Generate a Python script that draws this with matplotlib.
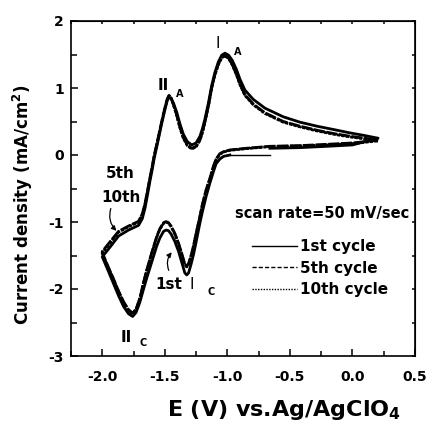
import numpy as np
import matplotlib
matplotlib.use("Agg")
import matplotlib.pyplot as plt
from matplotlib.lines import Line2D

# potential grids (V vs Ag/AgClO4)
E_cat = [0.20, 0.0, -0.2, -0.42, -0.66, -0.85, -0.98, -1.03, -1.06, -1.09, -1.11, -1.14,
         -1.17, -1.2, -1.22, -1.25, -1.27, -1.29, -1.31, -1.325, -1.34, -1.365, -1.39,
         -1.42, -1.45, -1.47, -1.49, -1.51, -1.54, -1.565, -1.6, -1.645, -1.67, -1.7,
         -1.73, -1.757, -1.79, -1.83, -1.87, -1.91, -1.95, -2.0]
E_an = [-2.0, -1.94, -1.87, -1.79, -1.71, -1.68, -1.658, -1.638, -1.618, -1.6, -1.584,
        -1.56, -1.525, -1.5, -1.48, -1.467, -1.45, -1.43, -1.405, -1.38, -1.352, -1.32,
        -1.285, -1.25, -1.219, -1.2, -1.179, -1.15, -1.126, -1.1, -1.072, -1.045, -1.019,
        -0.99, -0.96, -0.926, -0.899, -0.86, -0.793, -0.7, -0.553, -0.42, -0.284, -0.15,
        -0.02, 0.1, 0.205]

# 1st cycle starts at -0.66 V (E_cat[4:]) and returns to -0.66 V (E_cat[:5])
J1_start = [0.0, 0.0, 0.0]
J1_cat = [0.0, -0.02, -0.06, -0.13, -0.24, -0.42, -0.62, -0.85, -1.02, -1.3,
          -1.48, -1.63, -1.76, -1.79, -1.76, -1.6, -1.44, -1.29, -1.18, -1.13, -1.12,
          -1.14, -1.24, -1.36, -1.57, -1.84, -2.0, -2.2, -2.35, -2.41, -2.37, -2.26, -2.1,
          -1.92, -1.74, -1.52]
J1_an = [-1.52, -1.38, -1.21, -1.12, -1.05, -0.95, -0.79, -0.59, -0.38, -0.21, -0.04, 0.16,
         0.47, 0.67, 0.82, 0.86, 0.84, 0.77, 0.64, 0.47, 0.31, 0.2, 0.15, 0.18, 0.28, 0.39,
         0.54, 0.79, 1.03, 1.23, 1.39, 1.49, 1.52, 1.49, 1.41, 1.27, 1.13, 0.97, 0.83, 0.7,
         0.57, 0.49, 0.43, 0.38, 0.33, 0.29, 0.25]
J1_ret = [0.25, 0.15, 0.13, 0.11, 0.10]

J5_cat = [0.22, 0.18, 0.16, 0.14, 0.13, 0.10, 0.075, 0.05, 0.02, -0.06, -0.16, -0.35,
          -0.52, -0.74, -0.92, -1.17, -1.35, -1.5, -1.62, -1.66, -1.63, -1.47, -1.32,
          -1.17, -1.06, -1.01, -0.995, -1.01, -1.1, -1.22, -1.43, -1.72, -1.9, -2.14,
          -2.3, -2.36, -2.31, -2.19, -2.03, -1.85, -1.68, -1.46]
J5_an = [-1.44, -1.3, -1.14, -1.06, -0.99, -0.88, -0.72, -0.53, -0.33, -0.16, 0.0, 0.2,
         0.5, 0.7, 0.84, 0.89, 0.86, 0.75, 0.6, 0.42, 0.26, 0.15, 0.1, 0.13, 0.23, 0.34,
         0.5, 0.75, 1.0, 1.2, 1.36, 1.46, 1.49, 1.45, 1.35, 1.2, 1.06, 0.9, 0.76, 0.63,
         0.5, 0.43, 0.37, 0.32, 0.28, 0.25, 0.22]

J10_cat = [0.21, 0.17, 0.15, 0.135, 0.125, 0.095, 0.07, 0.045, 0.01, -0.07, -0.17, -0.36,
           -0.53, -0.75, -0.93, -1.18, -1.36, -1.51, -1.63, -1.67, -1.64, -1.48, -1.33,
           -1.18, -1.07, -1.02, -1.0, -1.02, -1.11, -1.23, -1.44, -1.73, -1.91, -2.15,
           -2.31, -2.37, -2.32, -2.2, -2.04, -1.86, -1.69, -1.47]
J10_an = [-1.46, -1.32, -1.15, -1.07, -1.0, -0.89, -0.73, -0.54, -0.34, -0.17, -0.01, 0.19,
          0.49, 0.69, 0.83, 0.88, 0.85, 0.74, 0.59, 0.41, 0.25, 0.14, 0.09, 0.12, 0.22, 0.33,
          0.49, 0.74, 0.99, 1.19, 1.35, 1.45, 1.48, 1.44, 1.34, 1.19, 1.05, 0.89, 0.75, 0.62,
          0.49, 0.42, 0.36, 0.31, 0.27, 0.24, 0.21]

labels = ["1st cycle", "5th cycle", "10th cycle"]

plt.rcParams['font.family'] = ['DejaVu Sans']
plt.rcParams['font.weight'] = 'bold'

fig = plt.figure(figsize=(4.29, 4.22), dpi=100)
ax = fig.add_axes([71/429, 1-356/422, 344/429, 335/422])

lw = 2.0
# thin start of the 1st cycle from the rest potential
ax.plot(E_cat[4:7], J1_start, color='black', lw=1.0)
E1 = E_cat[6:] + E_an + E_cat[:5]
J1 = J1_cat + J1_an + J1_ret
ax.plot(E1, J1, color='black', lw=lw, ls='-')
ax.plot(E_cat + E_an, J5_cat + J5_an, color='black', lw=lw, ls=(0, (4, 0.6)))
ax.plot(E_cat + E_an, J10_cat + J10_an, color='black', lw=lw, ls=(0, (1.2, 0.4)))

ax.set_xlim(-2.25, 0.5)
ax.set_ylim(-3, 2)
ax.set_xticks(np.arange(-2.0, 0.51, 0.5))
ax.set_xticks(np.arange(-2.25, 0.51, 0.25), minor=True)
ax.set_yticks(np.arange(-3, 2.1, 1))
ax.set_yticks(np.arange(-3, 2.1, 0.5), minor=True)
ax.set_xticklabels(["-2.0", "-1.5", "-1.0", "-0.5", "0.0", "0.5"])
ax.set_yticklabels(["-3", "-2", "-1", "0", "1", "2"])
ax.tick_params(which='both', direction='in', width=1.1, labelsize=10)
ax.tick_params(axis='x', which='major', length=5, pad=10)
ax.tick_params(axis='x', which='minor', length=3.5)
ax.tick_params(axis='y', which='major', length=5, pad=5)
ax.tick_params(axis='y', which='minor', length=4)
for s in ax.spines.values():
    s.set_linewidth(1.2)

# short ticks on top and right
tx = ax.secondary_xaxis('top')
tx.set_xticks(np.arange(-2.25, 0.51, 0.25))
tx.tick_params(direction='in', length=2, width=1.1, labeltop=False)
ry = ax.secondary_yaxis('right')
ry.set_yticks(np.arange(-3, 2.1, 0.5))
ry.tick_params(direction='in', length=2, width=1.1, labelright=False)

fig.text(23/429, 1-205/422, "Current density (mA/cm$^\\mathbf{2}$)", rotation=90,
         ha='center', va='center', fontsize=12, fontweight='bold')
fig.text(284/429, 1-410/422, "E (V) vs.Ag/AgClO$_\\mathbf{4}$",
         ha='center', va='center', fontsize=16, fontweight='bold')

# peak labels
ax.text(-1.515, 1.03, "II", fontsize=11, ha='center', va='center')
ax.text(-1.379, 0.91, "A", fontsize=7, ha='center', va='center')
ax.text(-1.075, 1.67, "I", fontsize=11, ha='center', va='center', fontweight='normal')
ax.text(-0.915, 1.54, "A", fontsize=7, ha='center', va='center')
ax.text(-1.283, -1.94, "I", fontsize=11, ha='center', va='center', fontweight='normal')
ax.text(-1.131, -2.04, "C", fontsize=7, ha='center', va='center')
ax.text(-1.81, -2.72, "II", fontsize=11, ha='center', va='center')
ax.text(-1.674, -2.81, "C", fontsize=7, ha='center', va='center')

ax.text(-1.858, -0.28, "5th", fontsize=11, ha='center', va='center')
ax.text(-1.85, -0.64, "10th", fontsize=11, ha='center', va='center')
ax.annotate("", xy=(-1.87, -1.16), xytext=(-1.925, -0.76),
            arrowprops=dict(arrowstyle='-|>', color='black', lw=0.9, mutation_scale=7,
                            connectionstyle="arc3,rad=0.35"))
ax.text(-1.467, -1.93, "1st", fontsize=11, ha='center', va='center')
ax.annotate("", xy=(-1.43, -1.42), xytext=(-1.46, -1.76),
            arrowprops=dict(arrowstyle='-|>', color='black', lw=0.9, mutation_scale=7,
                            connectionstyle="arc3,rad=-0.35"))

ax.text(-0.243, -0.87, "scan rate=50 mV/sec", fontsize=10.5, ha='center', va='center')

handles = [Line2D([], [], color='black', lw=1.0, ls='-'),
           Line2D([], [], color='black', lw=1.0, ls=(0, (3, 1.5))),
           Line2D([], [], color='black', lw=1.0, ls=(0, (1, 1)))]
ax.legend(handles, labels, loc='upper left', bbox_to_anchor=(251.7/429, 1-239/422),
          bbox_transform=fig.transFigure, frameon=False,
          handlelength=2.95, handletextpad=0.2, labelspacing=0.44,
          borderpad=0, borderaxespad=0, prop={'weight': 'bold', 'size': 11})

fig.savefig("out.png", dpi=100)
